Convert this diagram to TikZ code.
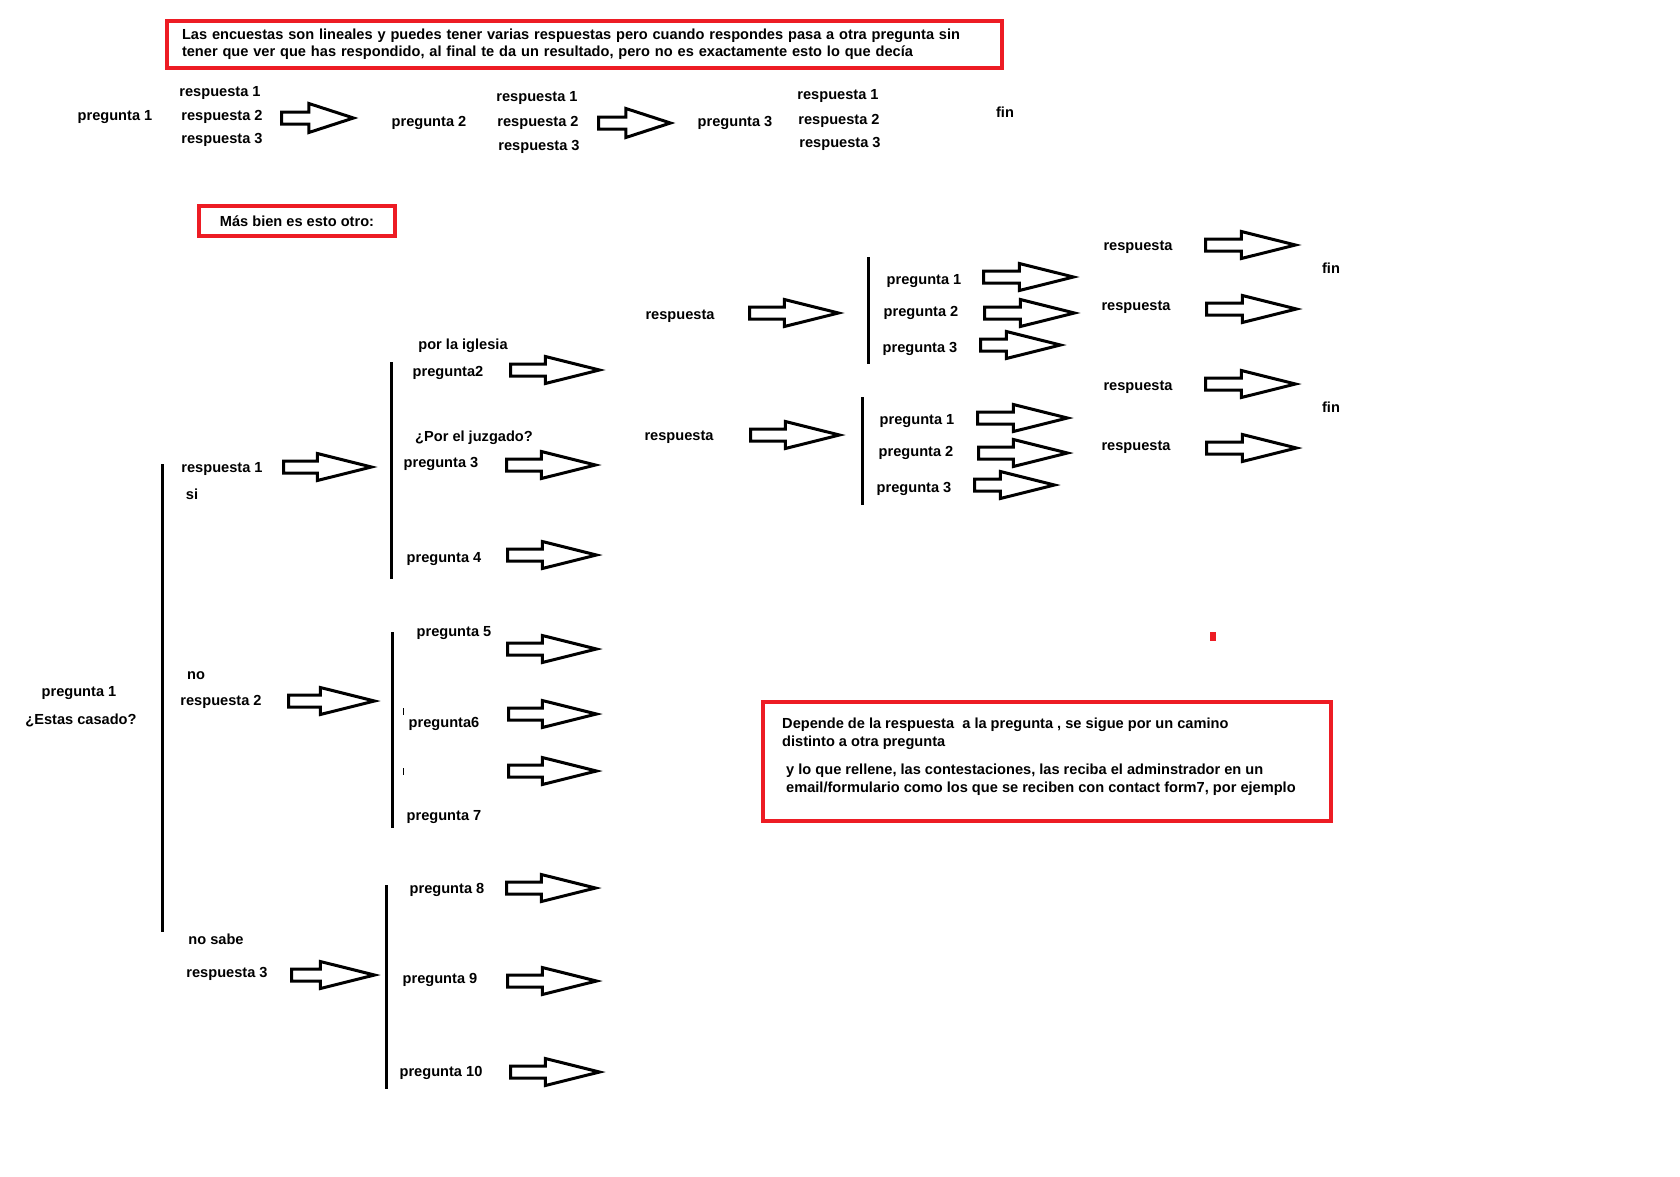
\documentclass[tikz,border=0pt]{standalone}
\usepackage{fontspec}
\setmainfont{Liberation Sans}
\usetikzlibrary{shapes.arrows,positioning}
\definecolor{paintred}{HTML}{ED1C24}

\begin{document}
\begin{tikzpicture}[x=1pt,y=-1pt,
  txt/.style={font=\fontsize{14.6}{17.5}\selectfont\bfseries,inner sep=0pt,yshift=-2pt},
  caja/.style={font=\fontsize{14.6}{17.5}\selectfont\bfseries,draw=paintred,line width=4pt},
  flecha/.style={single arrow,draw=black,line width=3pt,fill=white,
    inner sep=4.5pt,single arrow head extend=7.5pt,single arrow tip angle=28,
    single arrow head indent=0pt,minimum height=89pt,anchor=tail},
  flechac/.style={flecha,minimum height=72pt,single arrow head extend=8.5pt,
    single arrow tip angle=36},
  raya/.style={line width=3pt}
]
\fill[white] (0,0) rectangle (1680,1176);
\useasboundingbox (0,0) rectangle (1680,1176);

% encuesta lineal
\node[caja,text width=805pt,align=left,inner xsep=15pt,minimum height=47pt]
  (enc) at (584.5,44)
  {Las encuestas son lineales y puedes tener varias respuestas pero cuando respondes pasa a otra pregunta sin\\
   tener que ver que has respondido, al final te da un resultado, pero no es exactamente esto lo que decía};
\node[txt] (lp1) at (115,115) {pregunta 1};
\node[txt] (lr11) at (220,91) {respuesta 1};
\node[txt] (lr12) at (222,115) {respuesta 2};
\node[txt] (lr13) at (222,138) {respuesta 3};
\node[flechac] (la1) at (280,118) {};
\node[txt] (lp2) at (429,121) {pregunta 2};
\node[txt] (lr21) at (537,96) {respuesta 1};
\node[txt] (lr22) at (538,121) {respuesta 2};
\node[txt] (lr23) at (539,145) {respuesta 3};
\node[flechac] (la2) at (597,123) {};
\node[txt] (lp3) at (735,121) {pregunta 3};
\node[txt] (lr31) at (838,94) {respuesta 1};
\node[txt] (lr32) at (839,119) {respuesta 2};
\node[txt] (lr33) at (840,142) {respuesta 3};
\node[txt] (lfin) at (1005,110) {fin};

\node[caja,minimum width=196pt,minimum height=30pt] (otro) at (297,221)
  {Más bien es esto otro:};

% arbol
\node[txt] (p1) at (79,691) {pregunta 1};
\node[txt] (casado) at (81,718) {¿Estas casado?};
\draw[raya] (162,464) -- (162,932);
\node[txt] (r1) at (222,467) {respuesta 1};
\node[txt] (si) at (192,492) {si};
\node[txt] (no) at (196,674) {no};
\node[txt] (r2) at (221,700) {respuesta 2};
\node[txt] (nosabe) at (216,937) {no sabe};
\node[txt] (r3) at (227,972) {respuesta 3};
\node[flecha,minimum height=88pt] (a1) at (282,467) {};
\node[flecha,minimum height=86pt] (a2) at (287,701) {};
\node[flecha,minimum height=83pt] (a3) at (290,975) {};

\draw[raya] (391,362) -- (391,579);
\node[txt] (iglesia) at (463,344) {por la iglesia};
\node[txt] (q2) at (448,371) {pregunta2};
\node[txt] (juzgado) at (474,436) {¿Por el juzgado?};
\node[txt] (q3) at (441,462) {pregunta 3};
\node[txt] (q4) at (444,557) {pregunta 4};
\node[flecha] (b2) at (509,370) {};
\node[flecha] (b3) at (505,465) {};
\node[flecha] (b4) at (506,555) {};

\draw[raya] (392,632) -- (392,828);
\node[txt] (q5) at (454,631) {pregunta 5};
\node[txt] (q6) at (444,722) {pregunta6};
\node[txt] (q7) at (444,815) {pregunta 7};
\draw[line width=1pt] (403,708) -- (403,715) (403,768) -- (403,775);
\node[flecha] (b5) at (506,649) {};
\node[flecha,minimum height=88pt] (b6) at (507,714) {};
\node[flecha,minimum height=88pt] (b7) at (507,771) {};

\draw[raya] (386,885) -- (386,1089);
\node[txt] (q8) at (447,888) {pregunta 8};
\node[txt] (q9) at (440,978) {pregunta 9};
\node[txt] (q10) at (441,1071) {pregunta 10};
\node[flecha] (b8) at (505,888) {};
\node[flecha] (b9) at (506,981) {};
\node[flecha] (b10) at (509,1072) {};

% ramas de la derecha
\node[txt] (ra) at (680,314) {respuesta};
\node[flecha] (ca) at (748,313) {};
\draw[raya] (868,257) -- (868,364);
\node[txt] (ra1) at (924,279) {pregunta 1};
\node[txt] (ra2) at (921,311) {pregunta 2};
\node[txt] (ra3) at (920,347) {pregunta 3};
\node[flecha,minimum height=90pt] (da1) at (982,277) {};
\node[flecha,minimum height=90pt] (da2) at (983,313) {};
\node[flecha,minimum height=80pt] (da3) at (979,345) {};
\node[txt] (sa1) at (1138,245) {respuesta};
\node[txt] (sa2) at (1136,305) {respuesta};
\node[flecha,minimum height=90pt] (ea1) at (1204,245) {};
\node[flecha,minimum height=90pt] (ea2) at (1205,309) {};
\node[txt] (fina) at (1331,266) {fin};

\node[txt] (rb) at (679,435) {respuesta};
\node[flecha] (cb) at (749,435) {};
\draw[raya] (862,397) -- (862,505);
\node[txt] (rb1) at (917,419) {pregunta 1};
\node[txt] (rb2) at (916,451) {pregunta 2};
\node[txt] (rb3) at (914,487) {pregunta 3};
\node[flecha,minimum height=90pt] (db1) at (976,418) {};
\node[flecha] (db2) at (977,453) {};
\node[flecha,minimum height=80pt] (db3) at (973,485) {};
\node[txt] (sb1) at (1138,385) {respuesta};
\node[txt] (sb2) at (1136,445) {respuesta};
\node[flecha,minimum height=90pt] (eb1) at (1204,384) {};
\node[flecha,minimum height=90pt] (eb2) at (1205,448) {};
\node[txt] (finb) at (1331,405) {fin};

\fill[paintred] (1210,632) rectangle (1216,641);

% nota
\node[caja,minimum width=568pt,minimum height=119pt] (nota) at (1047,761.5) {};
\node[txt,align=left,anchor=west] (nota1) at (782,731.5)
  {Depende de la respuesta\ \ a la pregunta , se sigue por un camino\\distinto a otra pregunta};
\node[txt,align=left,anchor=west] (nota2) at (786,777.5)
  {y lo que rellene, las contestaciones, las reciba el adminstrador en un\\email/formulario como los que se reciben con contact form7, por ejemplo};
\end{tikzpicture}
\end{document}
